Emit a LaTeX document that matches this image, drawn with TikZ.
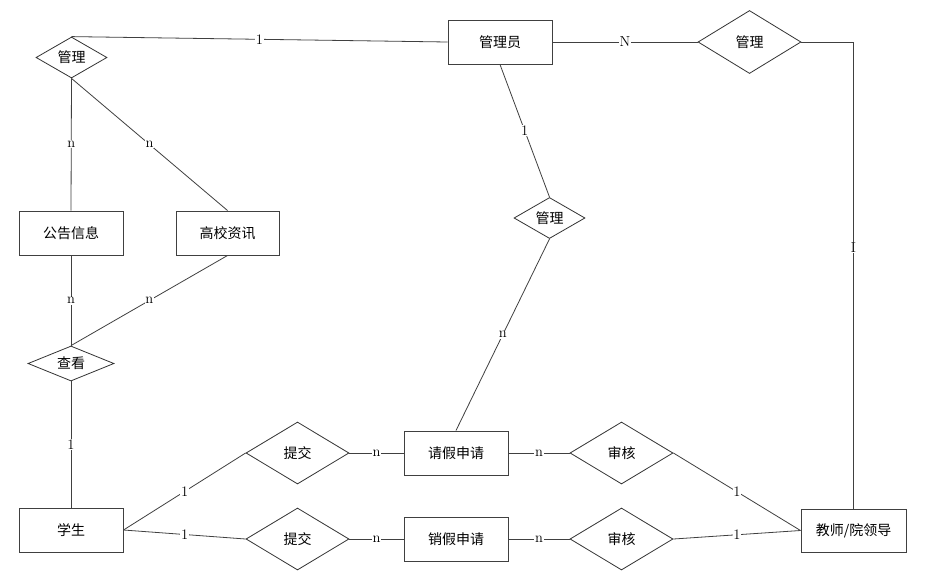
\documentclass[tikz,border=0pt]{standalone}
\usepackage{fontspec}
\newfontfamily\cjk{Noto Sans CJK SC}
\usetikzlibrary{positioning,shapes.geometric}
\tikzstyle{ent}=[draw=black!75, line width=1pt, minimum height=44pt, minimum width=104pt, inner sep=0pt, font=\cjk\fontsize{14}{16}\selectfont]
\tikzstyle{rel}=[draw=black!80, diamond, aspect=2, line width=0.8pt, minimum height=62pt, minimum width=103pt, inner sep=0pt, font=\cjk\fontsize{14}{16}\selectfont]
\tikzstyle{card}=[fill=white, inner sep=0.8pt, font=\fontsize{14.5}{14.5}\selectfont]
\tikzstyle{ln}=[draw=black!75, line width=0.8pt]
\begin{document}
\begin{tikzpicture}[x=1pt,y=-1pt]
\useasboundingbox[fill=white] (0,0) rectangle (934,582);

% left column
\node[rel, minimum width=71pt, minimum height=41pt] at (71.5,57.5) (gl1) {管理};
\node[ent] at (71,233) (ggxx) {公告信息};
\node[ent, right of = ggxx, node distance = 156.5pt, minimum width=103pt] (gxzx) {高校资讯};
\node[rel, minimum width=86pt, minimum height=35pt] at (71,363.5) (ck) {查看};
\node[ent] at (71,530) (xs) {学生};

% top
\node[ent] at (500,42) (gly) {管理员};
\node[rel, minimum height=63pt] at (749.5,42) (gl2) {管理};
\node[rel, minimum width=71pt, minimum height=41pt] at (549.5,218) (gl3) {管理};

% bottom rows
\node[rel] at (297.5,453) (tj1) {提交};
\node[rel] at (297.5,539) (tj2) {提交};
\node[ent, right of = tj1, node distance = 158.5pt] (qjsq) {请假申请};
\node[ent, right of = tj2, node distance = 158.5pt] (xjsq) {销假申请};
\node[rel, right of = qjsq, node distance = 165.5pt] (sh1) {审核};
\node[rel, right of = xjsq, node distance = 165.5pt] (sh2) {审核};
\node[ent, minimum width=105pt, minimum height=43pt] at (853.5,530.5) (js) {教师/院领导};

\draw[ln] (gl1.north) -- node[card] {1} (gly.west);
\draw[ln] (gl1.south) -- node[card] {n} (ggxx.north);
\draw[ln] (gl1.south) -- node[card] {n} (gxzx.north);
\draw[ln] (ggxx.south) -- node[card] {n} (ck.north);
\draw[ln] (gxzx.south) -- node[card] {n} (ck.north);
\draw[ln] (ck.south) -- node[card] {1} (xs.north);

\draw[ln] (gly.east) -- node[card] {N} (gl2.west);
\draw[ln] (gl2.east) -| node[card, pos=0.72] {I} (js.north);
\draw[ln] (gly.south) -- node[card] {1} (gl3.north);
\draw[ln] (gl3.south) -- node[card] {n} (qjsq.north);

\draw[ln] (xs.east) -- node[card] {1} (tj1.west);
\draw[ln] (xs.east) -- node[card] {1} (tj2.west);
\draw[ln] (tj1.east) -- node[card] {n} (qjsq.west);
\draw[ln] (tj2.east) -- node[card] {n} (xjsq.west);
\draw[ln] (qjsq.east) -- node[card] {n} (sh1.west);
\draw[ln] (xjsq.east) -- node[card] {n} (sh2.west);
\draw[ln] (sh1.east) -- node[card] {1} (js.west);
\draw[ln] (sh2.east) -- node[card] {1} (js.west);
\end{tikzpicture}
\end{document}
